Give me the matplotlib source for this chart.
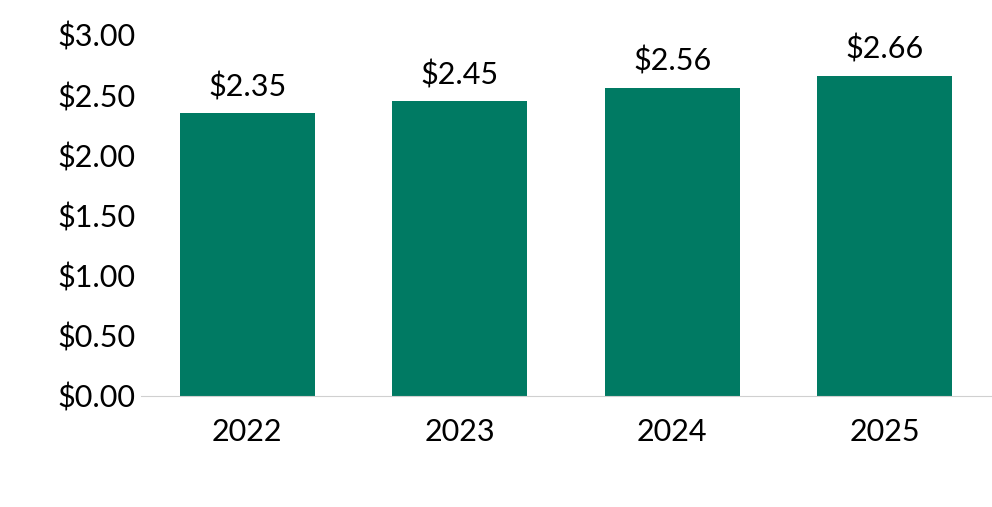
import matplotlib.pyplot as plt

plt.rcParams['font.family'] = ['Lato', 'DejaVu Sans']

years = ["2022", "2023", "2024", "2025"]
values = [2.35, 2.45, 2.56, 2.66]
labels = ["$2.35", "$2.45", "$2.56", "$2.66"]
yticks = [0, 0.5, 1.0, 1.5, 2.0, 2.5, 3.0]

fig = plt.figure(figsize=(9.92, 5.07), dpi=100)
ax = fig.add_axes([0.142, 0.219, 0.857, 0.712])

x = range(len(years))
bars = ax.bar(x, values, width=0.635, color="#007A63")
for b, lab in zip(bars, labels):
    ax.text(b.get_x() + b.get_width() / 2, b.get_height() + 0.1, lab,
            ha="center", va="bottom", fontsize=22)

ax.set_xlim(-0.5, 3.5)
ax.set_ylim(0, 3.0)
ax.set_xticks(list(x))
ax.set_xticklabels(years, fontsize=22)
ax.set_yticks(yticks)
ax.set_yticklabels([f"${v:.2f}" for v in yticks], fontsize=22)
ax.tick_params(length=0, axis="x", pad=16)
ax.tick_params(length=0, axis="y", pad=4)
for s in ["top", "right", "left"]:
    ax.spines[s].set_visible(False)
ax.spines["bottom"].set_color("#D0D0D0")

fig.savefig("out.png", dpi=100)
